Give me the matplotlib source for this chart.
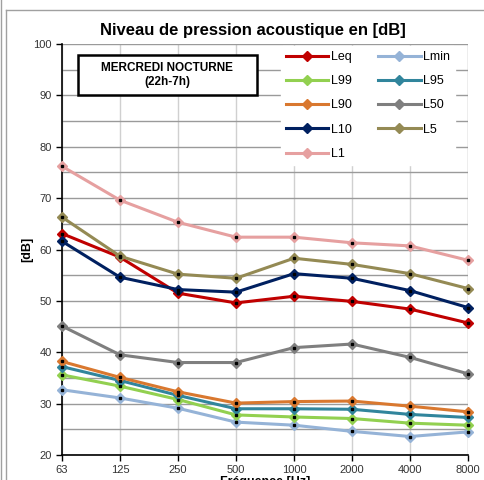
import matplotlib
matplotlib.use("Agg")
import matplotlib.pyplot as plt
from matplotlib.lines import Line2D
from matplotlib.patches import Rectangle

plt.rcParams['font.family'] = ['Liberation Sans', 'DejaVu Sans']

freqs = ["63", "125", "250", "500", "1000", "2000", "4000", "8000"]
Leq  = [63.1, 58.5, 51.5, 49.6, 50.9, 49.9, 48.4, 45.7]
Lmin = [32.7, 31.1, 29.1, 26.4, 25.8, 24.6, 23.6, 24.5]
L99  = [35.6, 33.4, 30.8, 27.8, 27.4, 27.1, 26.2, 25.8]
L95  = [37.2, 34.5, 31.6, 29.0, 29.0, 28.9, 27.9, 27.3]
L90  = [38.2, 35.1, 32.3, 30.1, 30.4, 30.5, 29.5, 28.4]
L50  = [45.1, 39.5, 38.0, 38.0, 40.9, 41.6, 39.0, 35.8]
L10  = [61.6, 54.6, 52.2, 51.7, 55.3, 54.4, 52.0, 48.7]
L5   = [66.3, 58.7, 55.2, 54.4, 58.3, 57.1, 55.3, 52.4]
L1   = [76.2, 69.6, 65.3, 62.4, 62.4, 61.3, 60.7, 57.9]

series = [
    ("Leq", Leq, "#C00000"),
    ("Lmin", Lmin, "#95B3D7"),
    ("L99", L99, "#92D050"),
    ("L95", L95, "#31859C"),
    ("L90", L90, "#D9782F"),
    ("L50", L50, "#7F7F7F"),
    ("L10", L10, "#002060"),
    ("L5", L5, "#948A54"),
    ("L1", L1, "#E6A0A0"),
]

fig = plt.figure(figsize=(4.85, 4.8), dpi=100)
ax = fig.add_axes([62/485, 1-455/480, (468-62)/485, (455-44)/480])

x = list(range(len(freqs)))
handles = {}
for name, vals, col in series:
    ax.plot(x, vals, color=col, lw=2.2, marker='D', ms=5,
            mfc=col, mec=col, zorder=3, clip_on=False)
    ax.plot(x, vals, ls='none', marker='s', ms=1.5, color='black', zorder=4, clip_on=False)
    handles[name] = Line2D([], [], color=col, lw=2.2, marker='D', ms=5, mfc=col, mec=col)

ax.set_xlim(0, 7)
ax.set_ylim(20, 100)
ax.set_xticks(x)
ax.set_xticklabels(freqs)
ax.set_yticks(range(20, 101, 10))
ax.set_yticks(range(25, 100, 10), minor=True)
ax.tick_params(axis='both', labelsize=8, length=4, width=1, direction='out',
               colors='black', labelcolor='#333333')
ax.tick_params(axis='y', which='minor', length=0)

ax.grid(axis='y', which='both', color='#9A9A9A', lw=1)
ax.grid(axis='x', color='#D0D0D0', lw=1)
ax.set_axisbelow(True)
for s in ['top', 'right']:
    ax.spines[s].set_visible(False)
ax.spines['left'].set_linewidth(1.2)
ax.spines['bottom'].set_linewidth(1.2)
ax.axvline(7, color='#D0D0D0', lw=1, zorder=0)

ax.set_ylabel("[dB]", fontsize=9, fontweight='bold')
ax.yaxis.set_label_coords((33-62)/406, 0.5)
ax.set_xlabel("Fréquence [Hz]", fontsize=9, fontweight='bold')
ax.xaxis.set_label_coords(0.5, -(476-455)/411)
fig.text(253/485, 1-30/480, "Niveau de pression acoustique en [dB]",
         ha='center', va='center', fontsize=12, fontweight='bold')

fig.add_artist(Rectangle((78/485, 1-95/480), (257-78)/485, (95-55)/480,
                         transform=fig.transFigure, fc='white', ec='black', lw=1.8, zorder=6))
fig.text(167/485, 1-75/480, "MERCREDI NOCTURNE\n(22h-7h)",
         ha='center', va='center', fontsize=8.5, fontweight='bold', linespacing=1.15,
         zorder=7)

order = ["Leq", "L99", "L90", "L10", "L1", "Lmin", "L95", "L50", "L5"]
leg = ax.legend([handles[n] for n in order], order, ncol=2, loc='upper left',
                bbox_to_anchor=((281-62)/406, 1-(46-44)/411), frameon=True,
                fontsize=9, handlelength=3.4, handletextpad=0.2, columnspacing=2.1,
                labelspacing=0.98, borderaxespad=0, borderpad=0.4)
leg.get_frame().set_facecolor('white')
leg.get_frame().set_edgecolor('white')
leg.get_frame().set_alpha(1)
leg.set_zorder(5)

fig.add_artist(Line2D([1/485, 1/485], [0, 1], color='#A0A0A0', lw=1, transform=fig.transFigure))
fig.add_artist(Line2D([6/485, 6/485], [0, 1-10/480], color='#A0A0A0', lw=1, transform=fig.transFigure))
fig.add_artist(Line2D([6/485, 1], [1-10/480, 1-10/480], color='#A0A0A0', lw=1, transform=fig.transFigure))

fig.savefig("out.png", dpi=100)
